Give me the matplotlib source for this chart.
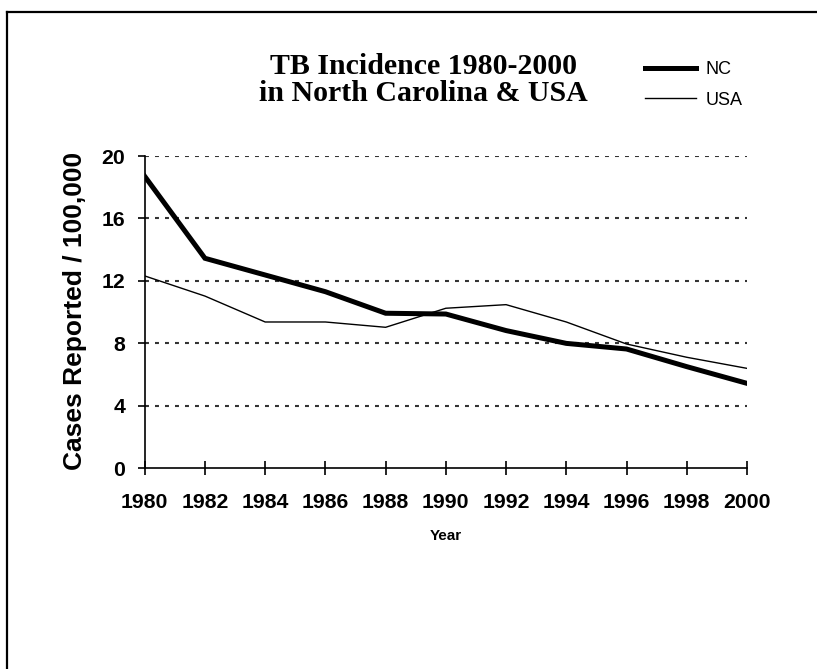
import matplotlib
matplotlib.use("Agg")
import matplotlib.pyplot as plt
from matplotlib.lines import Line2D

years = [1980, 1982, 1984, 1986, 1988, 1990, 1992, 1994, 1996, 1998, 2000]
nc = [18.7, 13.45, 12.38, 11.31, 9.93, 9.88, 8.82, 8.0, 7.64, 6.51, 5.44]
usa = [12.32, 11.03, 9.37, 9.37, 9.03, 10.25, 10.48, 9.37, 7.96, 7.11, 6.40]
yticks = [0, 4, 8, 12, 16, 20]
title = "TB Incidence 1980-2000\nin North Carolina & USA"

W, H = 817, 669
fig = plt.figure(figsize=(W / 100, H / 100), dpi=100)
ax = fig.add_axes([144.7 / W, 1 - 468.3 / H, (747 - 144.7) / W, (468.3 - 156) / H])

sans = ["Liberation Sans", "DejaVu Sans"]
serif = ["Liberation Serif", "DejaVu Serif"]

for y in yticks[1:]:
    ax.axhline(y, color="#333333", lw=1.5, linestyle=(0, (1.9, 2.9)), zorder=1)

ax.plot(years, nc, color="black", lw=3.6, solid_joinstyle="miter", label="NC", zorder=3)
ax.plot(years, usa, color="black", lw=1.0, label="USA", zorder=2)

ax.set_xlim(1980, 2000)
ax.set_ylim(0, 20)
ax.set_xticks(years)
ax.set_yticks(yticks)
for s in ["top", "right"]:
    ax.spines[s].set_visible(False)
for s in ["left", "bottom"]:
    ax.spines[s].set_linewidth(1.2)
ax.tick_params(axis="x", direction="inout", length=10, width=1.2, pad=13)
ax.tick_params(axis="y", direction="out", length=5, width=1.2, pad=9)
for lab in ax.get_xticklabels() + ax.get_yticklabels():
    lab.set_fontfamily(sans)
    lab.set_fontweight("bold")
    lab.set_fontsize(15.3)

fig.text(75 / W, 1 - 311 / H, "Cases Reported / 100,000", rotation=90, ha="center", va="center",
         family=sans, weight="bold", fontsize=19)
fig.text(446 / W, 1 - 536 / H, "Year", ha="center", va="center", family=sans, weight="bold", fontsize=11)
fig.text(423 / W, 1 - 80 / H, title, ha="center", va="center", family=serif, weight="bold",
         fontsize=21.5, linespacing=0.98)

leg = fig.legend(loc="upper left", bbox_to_anchor=(645 / W, 1 - 61 / H), frameon=False,
                 prop={"family": sans, "size": 13}, handlelength=2.8, handletextpad=0.55,
                 labelspacing=0.75, borderpad=0, borderaxespad=0)

fig.add_artist(Line2D([6.5 / W, 1], [1 - 11.5 / H, 1 - 11.5 / H], color="black", lw=1.6,
                      transform=fig.transFigure))
fig.add_artist(Line2D([6.5 / W, 6.5 / W], [0, 1 - 11.5 / H], color="black", lw=1.6,
                      transform=fig.transFigure))

fig.savefig("out.png", dpi=100)
